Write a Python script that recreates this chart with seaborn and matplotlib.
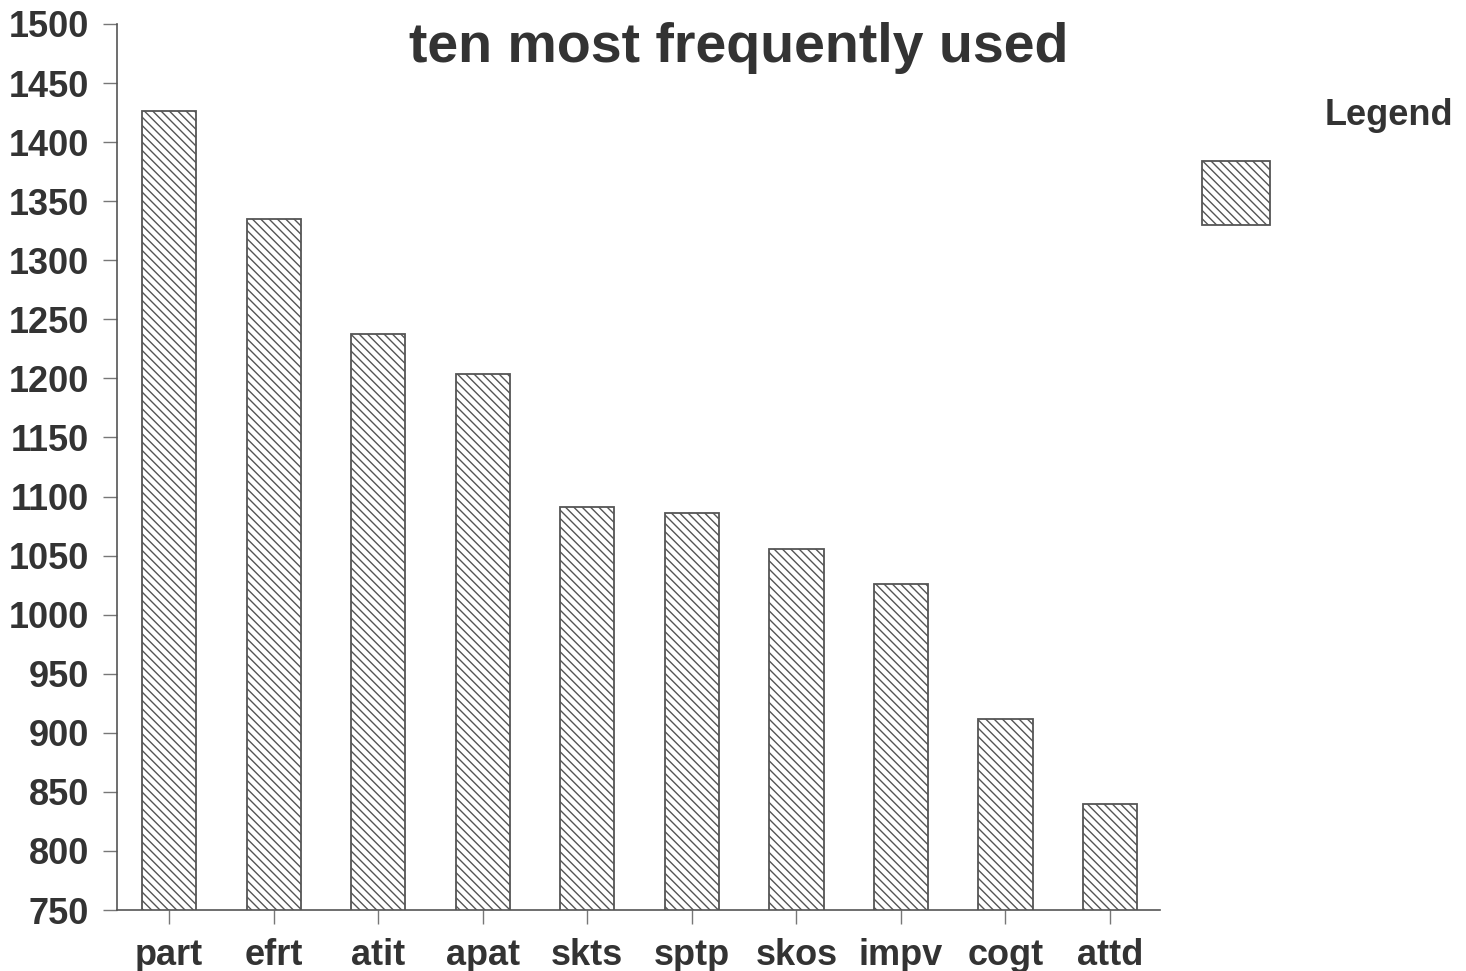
import matplotlib
matplotlib.use('Agg')
import matplotlib.pyplot as plt
import seaborn as sns
import pandas as pd
from matplotlib.patches import Patch

# values
categories = ['part', 'efrt', 'atit', 'apat', 'skts', 'sptp', 'skos', 'impv', 'cogt', 'attd']
counts = [1426, 1335, 1238, 1204, 1091, 1086, 1056, 1026, 912, 840]
yticks = list(range(750, 1501, 50))

sns.set_theme(style='white')
plt.rcParams['font.family'] = ['Liberation Sans', 'DejaVu Sans']
plt.rcParams['font.weight'] = 'bold'
plt.rcParams['hatch.linewidth'] = 1.0

df = pd.DataFrame({'code': categories, 'count': counts})

fig = plt.figure(figsize=(14.66, 9.71), dpi=100)
ax = fig.add_axes([0.0798, 0.0628, 0.7115, 0.9125])

sns.barplot(data=df, x='code', y='count', color='white', saturation=1,
            width=0.52, edgecolor='#555555', linewidth=1.3, ax=ax)
for bar in ax.patches:
    bar.set_hatch('\\\\\\\\')

ax.set_ylim(750, 1500)
ax.set_xlim(-0.5, 9.48)
ax.set_yticks(yticks)
ax.set_xlabel('')
ax.set_ylabel('')

ax.tick_params(axis='both', length=10, width=1, color='#777777',
               labelsize=26, labelcolor='#333333', pad=10)
ax.tick_params(axis='y', left=True)
ax.tick_params(axis='x', bottom=True)

sns.despine(ax=ax)
for side in ['left', 'bottom']:
    ax.spines[side].set_color('#555555')
    ax.spines[side].set_linewidth(1.2)

fig.text(739 / 1466, 1 - 62 / 971, 'ten most frequently used', ha='center',
         va='baseline', fontsize=40, color='#333333', fontweight='bold')

# legend: hatched key box with the word "Legend" placed to its upper right
handle = Patch(facecolor='white', edgecolor='#555555', hatch='\\\\\\\\', linewidth=1.3)
fig.legend(handles=[handle], labels=[''], loc='upper left',
           bbox_to_anchor=(1202 / 1466, 1 - 161 / 971), frameon=False,
           borderpad=0, borderaxespad=0, fontsize=10,
           handlelength=4.9, handleheight=6.7, handletextpad=0)
fig.text(1325 / 1466, 1 - 125 / 971, 'Legend', ha='left', va='baseline',
         fontsize=26, color='#333333')

fig.savefig('out.png', dpi=100, facecolor='white')
